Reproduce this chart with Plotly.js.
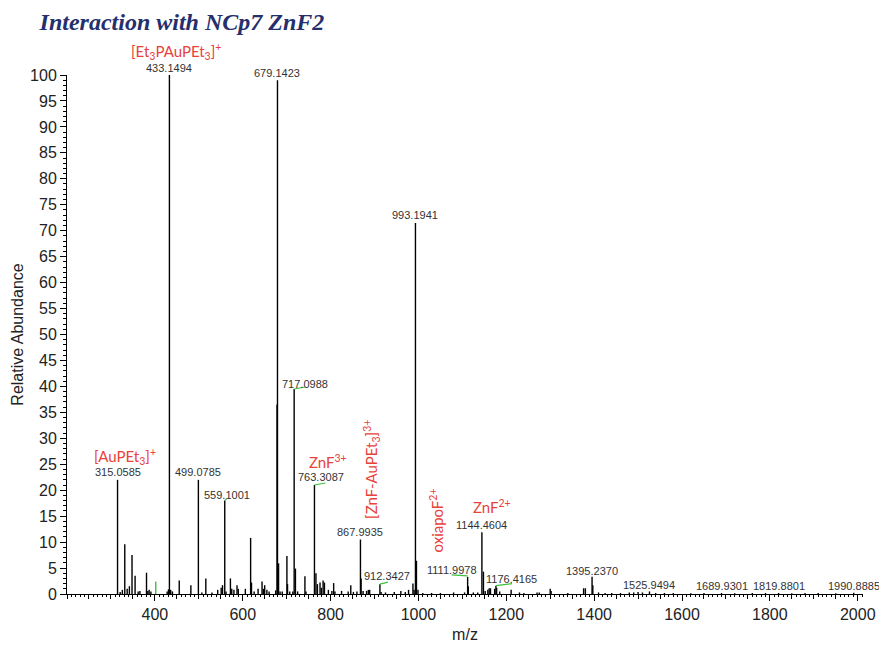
<!DOCTYPE html>
<html>
<head>
<meta charset="utf-8">
<script src="https://cdn.plot.ly/plotly-3.0.1.min.js"></script>
<style>html,body{margin:0;padding:0;background:#fff;}#chart{width:879px;height:645px;}</style>
</head>
<body>
<div id="chart"></div>
<script>
// ---- data (m/z, relative abundance) ----
const peakMz = [315.0585,321,326,331.5,337,342,348,355,362,366,381,384,387,391,428,431,433.1494,436,440,455.5,482,499.0785,507,516,530,543,551,554,559.1001,562,572,575,580,587,590,606,618,620,626,635,644,647,650,655,660,675,678.1,679.1423,681.6,685,690,700.6,702,707,714,717.0988,720,725,741.6,744,763.3087,766.7,770,776,779,783,786,795,803,807,810,825,840,846,852,860,867.9935,869.5,874,882,886,889,912.3427,915,925,945,960,970,977.5,987.5,990,993.1941,995.5,999,1010,1030,1050,1080,1105,1111.9978,1113.5,1125,1135,1144.4604,1148,1152,1158,1161,1164,1173.5,1176.4165,1178,1185,1211,1230,1240,1270,1275,1300,1302,1340,1376,1380,1395.2370,1397,1410,1425,1440,1460,1480,1490,1500,1510,1525.9494,1540,1560,1580,1620,1650,1689.9301,1720,1760,1790,1819.8801,1850,1880,1910,1950,1990.8885];
const peakInt = [22.0,0.4,0.8,9.6,1.0,1.5,7.5,3.5,0.5,0.6,4.1,0.6,0.8,0.5,0.5,0.9,100,0.8,0.5,2.6,1.7,22.0,0.3,3.0,0.3,0.8,1.2,1.7,18.0,0.5,3.0,1.0,0.8,1.7,1.0,1.0,10.8,2.2,0.5,1.0,2.4,1.0,1.7,0.8,0.5,0.7,36.5,99.0,5.9,0.5,0.5,7.3,1.9,0.5,0.5,39.5,4.9,0.5,3.4,0.5,21.0,4.0,1.9,2.2,1.2,2.6,2.2,0.8,0.6,2.1,0.5,0.6,0.5,1.7,0.4,0.5,10.5,3.0,0.6,0.6,0.8,0.8,1.9,0.4,0.3,0.4,0.6,0.4,0.8,2.0,0.8,71.5,6.4,0.8,0.2,0.2,0.2,0.3,0.3,3.3,1.5,0.3,0.3,11.9,4.3,0.6,0.8,1.1,1.1,1.0,1.6,1.2,0.5,0.8,0.3,0.2,0.3,0.3,1.0,0.6,0.2,1.1,1.1,3.3,1.7,0.3,0.2,0.2,0.2,0.3,0.3,0.4,0.3,0.5,0.2,0.2,0.2,0.15,0.2,0.2,0.15,0.2,0.2,0.2,0.15,0.2,0.2,0.15,0.25];
const greenMz = [402];
const greenInt = [2.4];

const labelMz = [315.0585,433.1494,499.0785,559.1001,679.1423,717.0988,763.3087,867.9935,912.3427,993.1941,1111.9978,1144.4604,1176.4165,1395.2370,1525.9494,1689.9301,1819.8801,1990.8885];
const labelText = ["315.0585","433.1494","499.0785","559.1001","679.1423","717.0988","763.3087","867.9935","912.3427","993.1941","1111.9978","1144.4604","1176.4165","1395.2370","1525.9494","1689.9301","1819.8801","1990.8885"];

const ionText = ["[Et<sub>3</sub>PAuPEt<sub>3</sub>]<sup>+</sup>","[AuPEt<sub>3</sub>]<sup>+</sup>","ZnF<sup>3+</sup>","[ZnF-AuPEt<sub>3</sub>]<sup>3+</sup>","oxiapoF<sup>2+</sup>","ZnF<sup>2+</sup>"];
const ionMz = [433.1494,315.0585,763.3087,867.9935,1111.9978,1144.4604];

const xTickVals = [400,600,800,1000,1200,1400,1600,1800,2000];

// ---- styling / placement (not data) ----
const labelShift = {
  "717.0988":[11,5.5], "763.3087":[7,8], "912.3427":[7,8], "1111.9978":[-16,7],
  "1176.4165":[16,6.5], "559.1001":[2,6], "1395.2370":[0,6], "1525.9494":[0,6.5],
  "1689.9301":[0,6.5], "1819.8801":[0,6.5], "1990.8885":[0,6.5]
};
const leaderSpec = { // px offsets for green leader lines
  "559.1001":[0,0,2,2], "717.0988":[0,0,11,2], "763.3087":[0,0,11,2],
  "912.3427":[0,0,8,2], "1111.9978":[0,1,-16,2], "1176.4165":[0,0,16,2]
};
const ionShift = [[7,24,0],[7,23,0],[14,24,0],[11,70,-90],[-31,56,-90],[10,26,0]];

function intensityAt(mz){ return peakInt[peakMz.indexOf(mz)]; }
function sticks(xs, ys){
  const X=[],Y=[];
  xs.forEach((m,i)=>{X.push(m,m,null);Y.push(0,ys[i],null);});
  return {X,Y};
}
const s1 = sticks(peakMz, peakInt);
const s2 = sticks(greenMz, greenInt);

const traces = [
  {x:s1.X,y:s1.Y,type:'scatter',mode:'lines',line:{color:'#000',width:1.4},hoverinfo:'skip',showlegend:false,cliponaxis:false},
  {x:s2.X,y:s2.Y,type:'scatter',mode:'lines',line:{color:'#3cc03c',width:1.4},hoverinfo:'skip',showlegend:false},
  {x:[400],y:[0],xaxis:'x2',type:'scatter',mode:'markers',marker:{opacity:0},hoverinfo:'skip',showlegend:false}
];

const annotations = [];
labelMz.forEach((m,i)=>{
  const sh = labelShift[labelText[i]] || [0,7.5];
  annotations.push({x:m,y:intensityAt(m),xref:'x',yref:'y',text:labelText[i],showarrow:false,
    xanchor:'center',yanchor:'middle',xshift:sh[0],yshift:sh[1],
    font:{family:'Liberation Sans, Arial, sans-serif',size:11,color:'#333'}});
});
ionMz.forEach((m,i)=>{
  const s = ionShift[i];
  annotations.push({x:m,y:intensityAt(m),xref:'x',yref:'y',text:ionText[i],showarrow:false,
    xanchor:'center',yanchor:'middle',xshift:s[0],yshift:s[1],textangle:s[2],
    font:{family:'Lato, Open Sans, sans-serif',size:15,color:'#e8423b'}});
});

const shapes = [];
Object.keys(leaderSpec).forEach(k=>{
  const m = parseFloat(k), l = leaderSpec[k];
  shapes.push({type:'line',xref:'x',yref:'y',xsizemode:'pixel',ysizemode:'pixel',
    xanchor:m,yanchor:intensityAt(m),x0:l[0],y0:l[1],x1:l[2],y1:l[3],
    line:{color:'#3cc03c',width:1.2}});
});

const layout = {
  width:879,height:645,
  paper_bgcolor:'#fff',plot_bgcolor:'#fff',
  margin:{l:67,r:16,t:75,b:51},
  title:{text:'<b><i>Interaction with NCp7 ZnF2</i></b>',xref:'container',yref:'container',
    x:0.045,xanchor:'left',y:0.966,yanchor:'middle',
    font:{family:'Liberation Serif, Times New Roman, serif',size:24,color:'#252f6b'}},
  xaxis:{range:[200,2012],showgrid:false,zeroline:false,showline:true,linecolor:'#000',linewidth:1,
    ticks:'outside',ticklen:6,tickcolor:'#000',tickvals:xTickVals,ticktext:xTickVals.map(String),
    minor:{dtick:50,tick0:0,ticks:'outside',ticklen:4,tickcolor:'#000',showgrid:false},
    tickfont:{family:'Liberation Sans, Arial, sans-serif',size:16,color:'#222'},
    title:{text:'m/z',standoff:6,font:{family:'Liberation Sans, Arial, sans-serif',size:16,color:'#222'}}},
  xaxis2:{range:[200,2012],overlaying:'x',anchor:'y',side:'bottom',showgrid:false,zeroline:false,showline:false,
    ticks:'outside',ticklen:2,tickcolor:'#000',dtick:10,tick0:0,showticklabels:false},
  yaxis:{range:[0,100],showgrid:false,zeroline:false,showline:true,linecolor:'#000',linewidth:1,
    ticks:'outside',ticklen:6,tickcolor:'#000',dtick:5,tick0:0,
    minor:{dtick:1,ticks:'outside',ticklen:3,tickcolor:'#000',showgrid:false},
    tickfont:{family:'Liberation Sans, Arial, sans-serif',size:16,color:'#222'},
    title:{text:'Relative Abundance',standoff:2,font:{family:'Liberation Sans, Arial, sans-serif',size:16,color:'#222'}}},
  annotations:annotations,
  shapes:shapes,
  showlegend:false
};

Plotly.newPlot('chart',traces,layout,{staticPlot:true,displayModeBar:false});
</script>
</body>
</html>
